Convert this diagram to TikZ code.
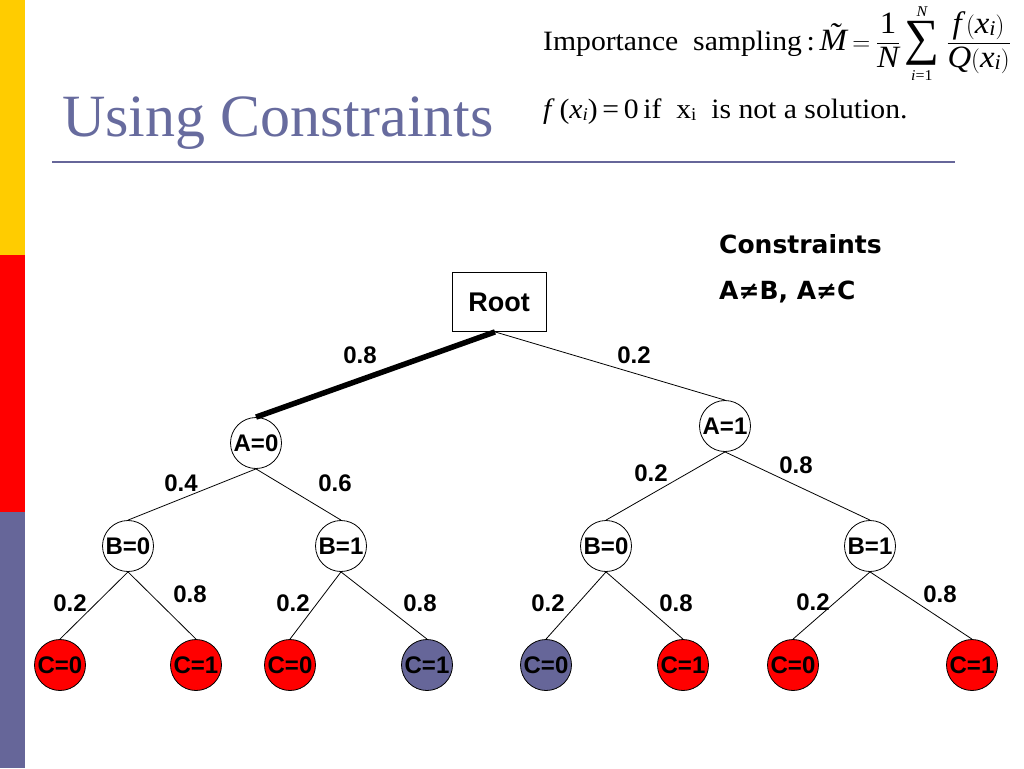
\documentclass[tikz,border=0pt]{standalone}
\usepackage{amsmath}
\usepackage{graphicx}
\usepackage{fontspec}
\setmainfont{Liberation Serif}
\newfontfamily\tnr{Liberation Serif}[FakeStretch=1.06]
\newfontfamily\arialf{Liberation Sans}
\newfontfamily\verdf{DejaVu Sans}
\definecolor{cyel}{HTML}{FFCC00}
\definecolor{cred}{HTML}{FF0000}
\definecolor{cpur}{HTML}{666699}
\definecolor{ctitle}{HTML}{676B9E}
\newcommand\sbi[1]{\raisebox{-2pt}{\fontsize{18}{18}\selectfont #1}}
\newcommand\sbj[1]{\raisebox{-2pt}{\fontsize{21}{21}\selectfont #1}}
\newcommand\ti[1]{\text{\itshape #1}}
\newcommand\sumlim[1]{\hbox{\tnr\fontsize{15}{15}\selectfont #1}}
\begin{document}
\begin{tikzpicture}[x=1pt,y=-1pt,
  tn/.style={circle,draw,line width=0.8pt,minimum size=51pt,inner sep=0pt,fill=white,
    font=\arialf\bfseries\fontsize{24}{24}\selectfont},
  leafred/.style={tn,fill=cred},
  leafpur/.style={tn,fill=cpur},
  rootbox/.style={draw,line width=0.8pt,minimum width=94pt,minimum height=59pt,inner sep=0pt,
    font=\arialf\bfseries\fontsize{27}{27}\selectfont},
  edge/.style={line width=0.8pt},
  heavy/.style={line width=5.5pt},
  lab/.style={inner sep=0pt,font=\arialf\bfseries\fontsize{24}{24}\selectfont},
  cons/.style={inner sep=0pt,anchor=base west,font=\verdf\bfseries\fontsize{25}{25}\selectfont},
  formula/.style={anchor=base west,inner sep=0pt,font=\tnr\fontsize{28}{32}\selectfont}]
\useasboundingbox (0,0) rectangle (1024,768);
\fill[white] (0,0) rectangle (1024,768);
% left bar
\fill[cyel] (0,0) rectangle (25,255);
\fill[cred] (0,255) rectangle (25,512);
\fill[cpur] (0,512) rectangle (25,768);
% title
\node[anchor=base west,inner sep=0pt,text=ctitle,font=\fontsize{60}{60}\selectfont] (title) at (62,136) {Using Constraints};
\draw[cpur,line width=2.5pt] (52,162) coordinate (r1) -- (955,162) coordinate (r2);
% formula
\node[formula] (f1) at (543,50)
  {Importance\ \ sampling\,:\,{\fontsize{31}{35}\selectfont$\ti{\~{M}}\mkern4mu{=}\mkern4mu\dfrac{\text{1}}{\ti{N}}\mathop{\vcenter{\hbox{\resizebox*{35pt}{44pt}{∑}}}}\limits^{\sumlim{\itshape N}}_{\sumlim{\itshape i\upshape =1}}\mkern2mu\dfrac{\ti{f}\,(\ti{x\sbj{i}})}{\ti{Q}(\ti{x\sbj{i}})}$}};
\node[formula] (f2) at (543,118)
  {\textit{f}\,(\textit{x\sbi{i}})\,=\,0\,if\ \ x\sbi{i}\ \ is not a solution.};
% constraints
\node[cons] (c1) at (719,253) {Constraints};
\node[cons] (c2) at (719,299) {A≠B, A≠C};
% tree
\node[rootbox] (root) at (499,302) {Root};
\node[tn] (a0) at (256,443) {A=0};
\node[tn] (a1) at (725,426) {A=1};
\node[tn] (b00) at (128,546) {B=0};
\node[tn] (b01) at (341,546) {B=1};
\node[tn] (b10) at (606,546) {B=0};
\node[tn] (b11) at (870,546) {B=1};
\node[leafred] (c000) at (60,665) {C=0};
\node[leafred] (c001) at (196,665) {C=1};
\node[leafred] (c010) at (290,665) {C=0};
\node[leafpur] (c011) at (427,665) {C=1};
\node[leafpur] (c100) at (546,665) {C=0};
\node[leafred] (c101) at (683,665) {C=1};
\node[leafred] (c110) at (793,665) {C=0};
\node[leafred] (c111) at (972,665) {C=1};
% edges
\draw[heavy] ([xshift=-4pt]root.south) -- (a0.north);
\draw[edge] ([xshift=-4pt]root.south) -- (a1.north);
\draw[edge] (a0.south) -- (b00.north);
\draw[edge] (a0.south) -- (b01.north);
\draw[edge] (a1.south) -- (b10.north);
\draw[edge] (a1.south) -- (b11.north);
\draw[edge] (b00.south) -- (c000.north);
\draw[edge] (b00.south) -- (c001.north);
\draw[edge] (b01.south) -- (c010.north);
\draw[edge] (b01.south) -- (c011.north);
\draw[edge] (b10.south) -- (c100.north);
\draw[edge] (b10.south) -- (c101.north);
\draw[edge] (b11.south) -- (c110.north);
\draw[edge] (b11.south) -- (c111.north);
% labels
\node[lab] (l1) at (360,355) {0.8};
\node[lab] (l2) at (634,355) {0.2};
\node[lab] (l3) at (181,483) {0.4};
\node[lab] (l4) at (335,483) {0.6};
\node[lab] (l5) at (651,473) {0.2};
\node[lab] (l6) at (796,465) {0.8};
\node[lab] (l7) at (70,603) {0.2};
\node[lab] (l8) at (190,594) {0.8};
\node[lab] (l9) at (293,603) {0.2};
\node[lab] (l10) at (420,603) {0.8};
\node[lab] (l11) at (548,603) {0.2};
\node[lab] (l12) at (676,603) {0.8};
\node[lab] (l13) at (813,602) {0.2};
\node[lab] (l14) at (940,594) {0.8};
\end{tikzpicture}
\end{document}
